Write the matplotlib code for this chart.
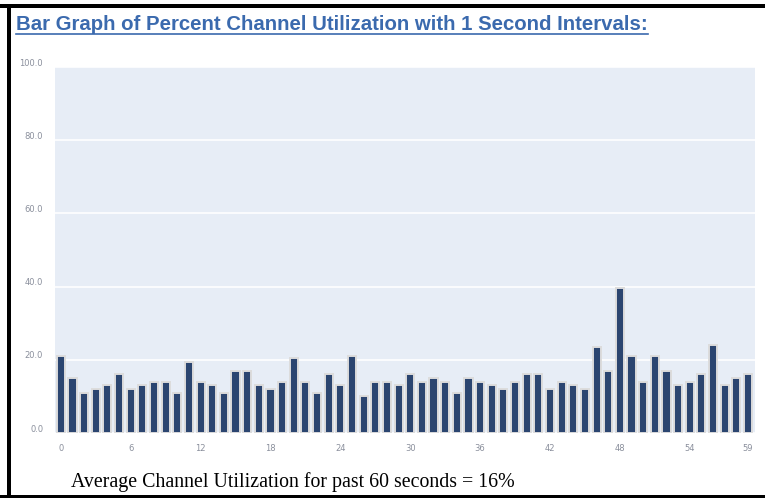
import numpy as np
import matplotlib.pyplot as plt
from matplotlib.lines import Line2D
from matplotlib.patches import Rectangle
from matplotlib.transforms import ScaledTranslation

W, H, DPI = 765, 498, 100

# percent channel utilization, one sample per second
seconds = list(range(60))
utilization = [
    21, 15, 11, 12, 13, 16, 12, 13, 14, 14,
    11, 19.5, 14, 13, 11, 17, 17, 13, 12, 14,
    20.5, 14, 11, 16, 13, 21, 10, 14, 14, 13,
    16, 14, 15, 14, 11, 15, 14, 13, 12, 14,
    16, 16, 12, 14, 13, 12, 23.5, 17, 39.5, 21,
    14, 21, 17, 13, 14, 16, 24, 13, 15, 16,
]
y_ticks = [0, 20, 40, 60, 80, 100]
x_ticks = [0, 6, 12, 18, 24, 30, 36, 42, 48, 54, 59]

TITLE = "Bar Graph of Percent Channel Utilization with 1 Second Intervals:"
FOOTER = "Average Channel Utilization for past 60 seconds = 16%"

BAR_COLOR = "#2b4570"
EDGE_COLOR = "#dcdcdc"
PLOT_BG = "#e7edf6"
TICK_COLOR = "#8a8f9c"
TITLE_COLOR = "#3b6aae"


def px_box(x0, y0, x1, y1):
    """Pixel box (origin top-left) -> figure fraction rect."""
    return (x0 / W, 1 - y1 / H, (x1 - x0) / W, (y1 - y0) / H)


fig = plt.figure(figsize=(W / DPI, H / DPI), dpi=DPI)
fig.patch.set_facecolor("white")

# black frame on top, left and bottom
for x0, y0, x1, y1 in [(0, 4, W, 8), (7, 4, 11, 498), (0, 495, W, 498)]:
    l, b, w, h = px_box(x0, y0, x1, y1)
    fig.add_artist(Rectangle((l, b), w, h, transform=fig.transFigure,
                             facecolor="black", edgecolor="none"))

l, b, w, h = px_box(55, 67, 755, 433)
ax = fig.add_axes([l, b, w, h])
ax.set_facecolor(PLOT_BG)

ax.bar(seconds, utilization, width=0.7, color=BAR_COLOR,
       edgecolor=EDGE_COLOR, linewidth=1.4, zorder=3)

ax.set_xlim(-0.5, 59.6)
ax.set_ylim(0, 100)
ax.set_yticks(y_ticks)
ax.set_yticklabels([f"{v:.1f}" for v in y_ticks])
ax.set_xticks(x_ticks)
ax.set_xticklabels([str(v) for v in x_ticks])
ax.grid(axis="y", color="white", linewidth=1.2, zorder=0)
ax.tick_params(length=0, labelsize=6, labelcolor=TICK_COLOR)
ax.tick_params(axis="y", pad=8.5)
ax.tick_params(axis="x", pad=8)
for spine in ax.spines.values():
    spine.set_visible(False)

# y labels sit a little above their grid lines
shift = ScaledTranslation(0, 5 / DPI, fig.dpi_scale_trans)
for lab in ax.get_yticklabels():
    lab.set_transform(lab.get_transform() + shift)

title = fig.text(16 / W, 1 - 30 / H, TITLE, fontsize=14.7, fontweight="bold",
                 family="Liberation Sans", color=TITLE_COLOR,
                 ha="left", va="baseline")
fig.text(71 / W, 1 - 487 / H, FOOTER, fontsize=14.3, family="Liberation Serif",
         color="black", ha="left", va="baseline")

# underline the title
fig.canvas.draw()
bb = title.get_window_extent()
uy = 1 - 34 / H
fig.add_artist(Line2D([bb.x0 / W, bb.x1 / W], [uy, uy], transform=fig.transFigure,
                      color=TITLE_COLOR, linewidth=1.2))

fig.savefig("out.png", dpi=DPI)
